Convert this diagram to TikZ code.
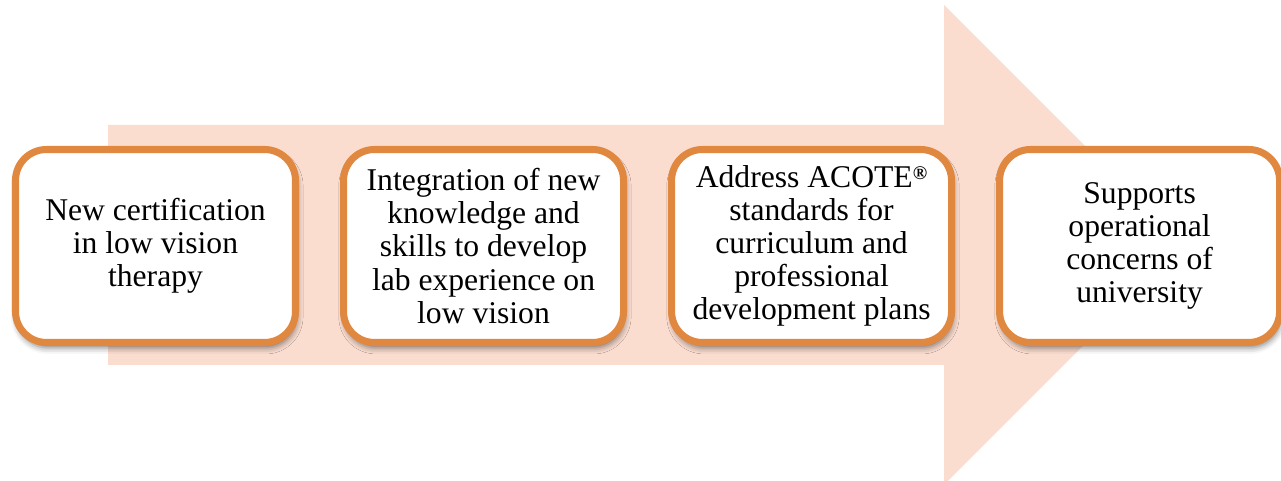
\documentclass[tikz,border=0pt]{standalone}
\usepackage{fontspec}
\setmainfont{Liberation Serif}
\usetikzlibrary{positioning, shadows.blur}

\definecolor{arrowpeach}{RGB}{251,221,208}
\definecolor{boxorange}{RGB}{224,136,64}

\newcommand{\regmark}{\raisebox{0.55ex}{\fontsize{11}{11}\selectfont\bfseries\textregistered}}

\begin{document}
\begin{tikzpicture}[
  stagebox/.style={draw=boxorange, line width=4pt, fill=white, rounded corners=0.62cm,
    minimum width=5.60cm, minimum height=3.86cm, align=center, inner sep=0pt,
    font=\fontsize{18}{18.8}\selectfont,
    blur shadow={shadow xshift=0.8pt, shadow yshift=-3pt, shadow blur radius=3.5pt, shadow opacity=50}}
]
  \useasboundingbox (0,0) rectangle (25.62,9.62);

  % big arrow in the back
  \fill[arrowpeach] (2.16,2.32) -- (18.88,2.32) -- (18.88,-0.08) -- (23.68,4.72)
    -- (18.88,9.52) -- (18.88,7.12) -- (2.16,7.12) -- cycle;

  % the four stages
  \node[stagebox] (cert) at (3.11,4.70) {New certification\\in low vision\\therapy};
  \node[stagebox, right=0.82cm of cert] (lab) {Integration of new\\knowledge and\\skills to develop\\lab experience on\\low vision};
  \node[stagebox, right=0.82cm of lab] (acote) {Address ACOTE\regmark\\standards for\\curriculum and\\professional\\development plans};
  \node[stagebox, right=0.82cm of acote] (univ) {Supports\\operational\\concerns of\\university};

\end{tikzpicture}
\end{document}
